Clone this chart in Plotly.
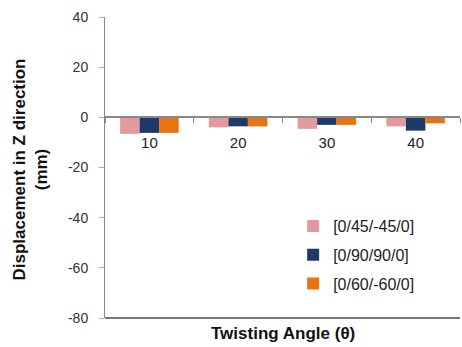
import plotly.graph_objects as go

categories = ["10", "20", "30", "40"]
s1_name = "[0/45/-45/0]"
s2_name = "[0/90/90/0]"
s3_name = "[0/60/-60/0]"
s1 = [-6.6, -4.0, -4.6, -3.6]
s2 = [-6.2, -3.6, -3.0, -5.3]
s3 = [-6.2, -3.6, -3.0, -2.4]
y_ticks = [40, 20, 0, -20, -40, -60, -80]
y_ticktext = [str(v) for v in y_ticks]

FONT = "Liberation Sans, Arial, sans-serif"

fig = go.Figure()
for i, (name, vals, col) in enumerate([(s1_name, s1, "#E39A9F"), (s2_name, s2, "#1F3A68"), (s3_name, s3, "#E8740F")]):
    fig.add_trace(go.Bar(x=categories, y=vals, name=name, legendgroup=f"g{i}",
                         marker=dict(color=col, line=dict(width=0))))

fig.update_layout(
    width=462, height=347,
    margin=dict(l=105, r=2, t=17, b=29),
    paper_bgcolor="white", plot_bgcolor="white",
    barmode="group", bargap=0.34, bargroupgap=0,
    font=dict(family=FONT, color="#222222", size=13),
    showlegend=True,
    legend=dict(x=0.53, y=0.362, xanchor="left", yanchor="top",
                font=dict(size=16, color="#222222"), bgcolor="rgba(0,0,0,0)",
                itemwidth=30, tracegroupgap=5),
    xaxis=dict(type="category", range=[-0.5, 3.5], anchor="free", position=2/3,
               showline=True, linecolor="#888888", linewidth=1.5,
               ticks="outside", tickson="boundaries", ticklen=5, tickcolor="#888888",
               ticklabelstandoff=12,
               tickfont=dict(size=15, color="#222222"), showgrid=False, zeroline=False),
    yaxis=dict(range=[-80, 40], tickvals=y_ticks, ticktext=y_ticktext,
               showline=True, linecolor="#888888", linewidth=1,
               ticks="outside", ticklen=5, tickcolor="#aaaaaa", ticklabelstandoff=8,
               tickfont=dict(size=14, color="#333333"), showgrid=False, zeroline=False),
)

fig.add_shape(type="line", xref="paper", yref="paper", x0=0, x1=1, y0=0, y1=0,
              line=dict(color="#777777", width=2))

fig.add_annotation(text="<b>Displacement in Z direction<br>(mm)</b>", xref="paper", yref="paper",
                   x=0, y=0.5, xshift=-75, yshift=-2, textangle=-90, showarrow=False,
                   font=dict(size=17, color="#111111"), xanchor="center", yanchor="middle")
fig.add_annotation(text="<b>Twisting Angle (θ)</b>", xref="paper", yref="paper",
                   x=0.5, y=0, yshift=-15, showarrow=False,
                   font=dict(size=17, color="#111111"), xanchor="center", yanchor="middle")

fig.write_html("out.html")
